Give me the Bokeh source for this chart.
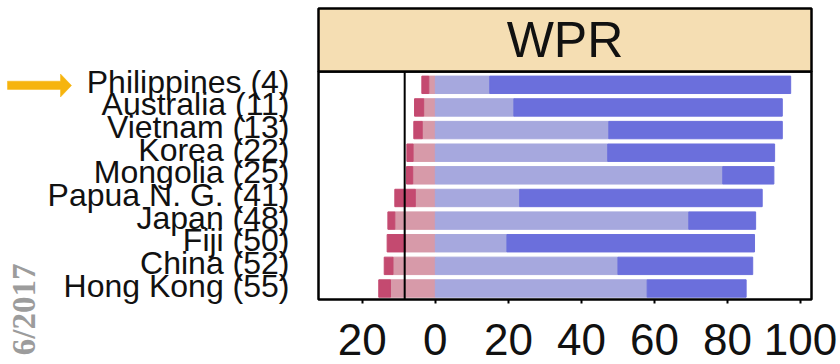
import numpy as np
from bokeh.plotting import figure
from bokeh.layouts import column
from bokeh.models import Range1d, FixedTicker, Span, GridBox
from bokeh.embed import file_html
from bokeh.resources import INLINE

# ---- data ----
countries = ["Philippines (4)", "Australia (11)", "Vietnam (13)", "Korea (22)", "Mongolia (25)",
             "Papua N. G. (41)", "Japan (48)", "Fiji (50)", "China (52)", "Hong Kong (55)"]
neg_light = [1.8, 3.2, 3.6, 6.1, 6.2, 5.5, 11.1, 8.2, 11.6, 12.3]
neg_dark = [1.9, 2.5, 2.3, 1.7, 1.7, 5.6, 1.9, 5.0, 2.4, 3.2]
pos_light = [14.9, 21.5, 47.5, 47.2, 78.7, 23.1, 69.4, 19.6, 50.0, 58.0]
pos_dark = [82.4, 73.5, 47.5, 45.7, 14.0, 66.4, 18.3, 67.8, 36.9, 27.1]
ref_line = -8.4
tick_values = [-20, 0, 20, 40, 60, 80, 100]
tick_labels = ["20", "0", "20", "40", "60", "80", "100"]
panel_title = "WPR"
date_text = "6/2017"

FONT = "Liberation Sans"
C_DARK_BLUE = "#6b6fdc"
C_LIGHT_BLUE = "#a6a8de"
C_PINK = "#d79aa9"
C_DARK_RED = "#c44a70"
C_STRIP = "#f5deb3"
C_ARROW = "#f6b40e"

nl = np.array(neg_light)
nd = np.array(neg_dark)
pl = np.array(pos_light)
pd_ = np.array(pos_dark)
n = len(countries)
rows = np.arange(n)          # 0 = first country, drawn at the top
label_nudge = 0.13           # row labels sit slightly above the bar centres in the reference

W, HT = 840, 364
TOP = 71                     # bottom edge of the strip / top of the bar panel
BL, BR = 318, 29             # left / right borders of the bar panel
xr = Range1d(-32.0, 103.0)

# main panel (full page height so row labels are never squeezed at the top edge)
yr = Range1d(n - 1 + 0.486, -0.588)   # reversed: first row on top
p = figure(width=W, height=HT, x_range=xr, y_range=yr,
           toolbar_location=None, output_backend="svg",
           min_border_left=BL, min_border_right=BR, min_border_top=TOP, min_border_bottom=65,
           background_fill_color="white", border_fill_color="white",
           outline_line_color="black", outline_line_width=2.5)
p.grid.visible = False

H = 0.77
p.hbar(y=rows, left=-nl, right=0, height=H, color=C_PINK)
p.hbar(y=rows, left=-(nl + nd), right=-nl, height=H, color=C_DARK_RED)
p.hbar(y=rows, left=0, right=pl, height=H, color=C_LIGHT_BLUE)
p.hbar(y=rows, left=pl, right=pl + pd_, height=H, color=C_DARK_BLUE)

p.add_layout(Span(location=ref_line, dimension="height", line_color="black", line_width=2))

# x axis
p.xaxis.ticker = FixedTicker(ticks=tick_values)
p.xaxis.major_label_overrides = {v: l for v, l in zip(tick_values, tick_labels)}
p.xaxis.major_label_text_font = FONT
p.xaxis.major_label_text_font_size = "44px"
p.xaxis.major_label_text_color = "#111111"
p.xaxis.major_label_standoff = 20
p.xaxis.major_tick_out = 4
p.xaxis.major_tick_in = 0
p.xaxis.major_tick_line_width = 2
p.xaxis.major_tick_line_color = "black"
p.xaxis.minor_tick_line_color = None
p.xaxis.axis_line_color = None

# y axis: one label per country row
y_ticks = [float(r - label_nudge) for r in rows]
p.yaxis.ticker = FixedTicker(ticks=y_ticks)
p.yaxis.major_label_overrides = {t: c for t, c in zip(y_ticks, countries)}
p.yaxis.major_label_text_font = FONT
p.yaxis.major_label_text_font_size = "32px"
p.yaxis.major_label_text_color = "#111111"
p.yaxis.major_label_standoff = 29
p.yaxis.major_tick_out = 0
p.yaxis.major_tick_in = 0
p.yaxis.major_tick_line_color = None
p.yaxis.minor_tick_line_color = None
p.yaxis.axis_line_color = None

# transparent overlay page layer (pixel space) for the decorations outside the panel:
# the strip header, the orange pointer arrow and the rotated date stamp
ov = figure(width=W, height=HT, x_range=Range1d(0, W), y_range=Range1d(HT, 0),
            toolbar_location=None, output_backend="svg",
            x_axis_location=None, y_axis_location=None,
            min_border_left=0, min_border_right=0, min_border_top=0, min_border_bottom=0,
            background_fill_alpha=0, border_fill_alpha=0, outline_line_color=None)
ov.grid.visible = False
ov.quad(left=[BL], right=[W - BR], top=[8], bottom=[TOP],
        fill_color=C_STRIP, line_color="black", line_width=2.5)
ov.text(x=[(BL + W - BR) / 2], y=[(8 + TOP) / 2], text=[panel_title],
        text_align="center", text_baseline="middle",
        text_font={"value": FONT}, text_font_size={"value": "50px"}, text_color="#111111")
ov.patch(x=[7, 60, 60, 71, 60, 60, 7], y=[80.7, 80.7, 73.5, 85, 96.5, 88.9, 88.9],
         fill_color=C_ARROW, line_color=C_ARROW, line_width=0.5)
ov.text(x=[23], y=[263], text=[date_text], angle=np.pi / 2,
        text_align="right", text_baseline="alphabetic",
        text_font={"value": "Liberation Serif"}, text_font_size={"value": "33px"},
        text_font_style="bold", text_color="#9c9c9c")

layout = GridBox(children=[(column(p), 0, 0), (ov, 0, 0)], spacing=0)
open("out.html", "w").write(file_html(layout, INLINE))
